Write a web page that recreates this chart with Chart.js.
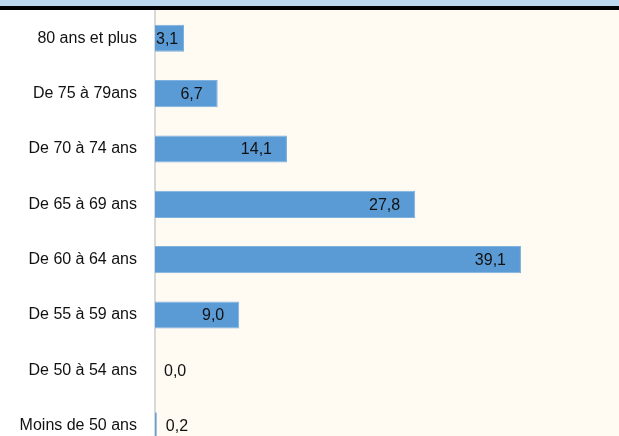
<!DOCTYPE html>
<html lang="fr">
<head>
    <meta charset="UTF-8">
    <title>Répartition par âge</title>
    <script src="https://cdn.jsdelivr.net/npm/chart.js"></script>
    <style>
        html, body {
            margin: 0;
            padding: 0;
            width: 619px;
            height: 436px;
            overflow: hidden;
            background: #ffffff;
            font-family: 'Liberation Sans', sans-serif;
        }
        .band {
            position: absolute;
            left: 0; top: 0;
            width: 619px; height: 6px;
            background: #bdd7ee;
        }
        .rule {
            position: absolute;
            left: 0; top: 6px;
            width: 619px; height: 4px;
            background: #000;
        }
        /* la zone de tracé déborde en bas et à droite, comme dans la capture */
        .wrap {
            position: absolute;
            left: 0; top: -17px;
            width: 623px;
            height: 498px;
        }
    </style>
</head>
<body>
<div class="wrap"><canvas id="chartCanvas"></canvas></div>
<div class="band"></div>
<div class="rule"></div>

<script>
const categories = [
    "80 ans et plus",
    "De 75 à 79ans",
    "De 70 à 74 ans",
    "De 65 à 69 ans",
    "De 60 à 64 ans",
    "De 55 à 59 ans",
    "De 50 à 54 ans",
    "Moins de 50 ans"
];
const values = [3.1, 6.7, 14.1, 27.8, 39.1, 9.0, 0.0, 0.2];
const axisMax = 50;

function fmt(v) {
    return v.toFixed(1).replace('.', ',');
}

// fond crème de la zone de tracé
const plotBackground = {
    id: 'plotBackground',
    beforeDraw(chart) {
        const { ctx, chartArea } = chart;
        ctx.save();
        ctx.fillStyle = '#fffaf2';
        ctx.fillRect(chartArea.left, 0, chart.width - chartArea.left, chart.height);
        ctx.restore();
    }
};

// étiquettes de valeur (style "intérieur fin" d'Excel)
const valueLabels = {
    id: 'valueLabels',
    afterDatasetsDraw(chart) {
        const { ctx } = chart;
        const meta = chart.getDatasetMeta(0);
        ctx.save();
        ctx.font = '16px "Liberation Sans"';
        ctx.fillStyle = '#111';
        ctx.textBaseline = 'middle';
        ctx.textAlign = 'left';
        meta.data.forEach((bar, i) => {
            const txt = fmt(values[i]);
            const tw = ctx.measureText(txt).width;
            const base = bar.base;
            const w = bar.x - base;
            let x;
            if (w >= tw) {
                x = Math.max(bar.x - 15 - tw, base + 1);
            } else {
                x = bar.x + 9;
            }
            ctx.fillText(txt, x, bar.y + 1);
        });
        ctx.restore();
    }
};

new Chart(document.getElementById('chartCanvas'), {
    type: 'bar',
    data: {
        labels: categories,
        datasets: [{
            data: values,
            backgroundColor: '#5b9bd5',
            borderColor: '#7fb1de',
            borderWidth: 1,
            categoryPercentage: 0.5,
            barPercentage: 0.98
        }]
    },
    options: {
        indexAxis: 'y',
        responsive: true,
        maintainAspectRatio: false,
        animation: false,
        layout: { padding: 0 },
        plugins: {
            legend: { display: false },
            tooltip: { enabled: false }
        },
        scales: {
            x: {
                display: false,
                min: 0,
                max: axisMax
            },
            y: {
                grid: { display: false, drawTicks: false },
                border: { display: true, color: '#d9d9d9', width: 2 },
                ticks: {
                    color: '#111',
                    padding: 18,
                    font: { family: 'Liberation Sans', size: 16 }
                },
                afterFit(scale) { scale.width = 155; }
            }
        }
    },
    plugins: [plotBackground, valueLabels]
});
</script>
</body>
</html>
